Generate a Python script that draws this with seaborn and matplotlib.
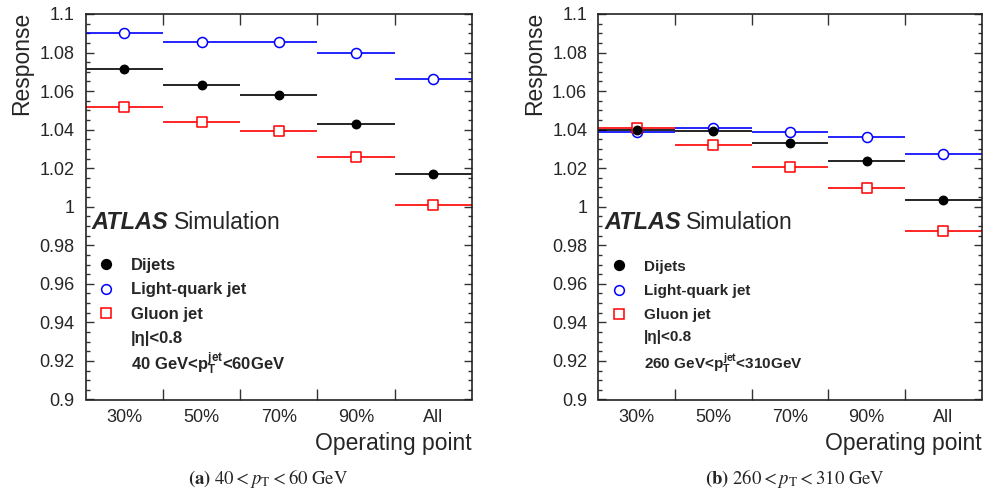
import matplotlib
matplotlib.use("Agg")
import matplotlib.pyplot as plt
import matplotlib.ticker as mticker
import seaborn as sns
import numpy as np

operating_points = ["30%", "50%", "70%", "90%", "All"]

# panel (a): 40 < pT < 60 GeV
dijets_a = [1.0716, 1.0633, 1.0581, 1.0429, 1.0171]
quark_a = [1.0901, 1.0856, 1.0855, 1.0799, 1.0663]
gluon_a = [1.0519, 1.0441, 1.0395, 1.0256, 1.0009]

# panel (b): 260 < pT < 310 GeV
dijets_b = [1.0398, 1.0393, 1.0331, 1.0237, 1.0033]
quark_b = [1.0389, 1.0410, 1.0386, 1.0360, 1.0272]
gluon_b = [1.0407, 1.0320, 1.0206, 1.0099, 0.9874]

sns.set_style("ticks")
plt.rcParams["font.family"] = ["Liberation Sans", "DejaVu Sans"]
plt.rcParams["mathtext.fontset"] = "custom"
plt.rcParams["mathtext.rm"] = "Liberation Sans:bold"
plt.rcParams["mathtext.it"] = "Liberation Sans:bold"
plt.rcParams["mathtext.bf"] = "Liberation Sans:bold"

BLUE = "#0000ff"
RED = "#ff0000"


def draw_panel(ax, dijets, quark, gluon, pt_text, leg):
    x = np.arange(len(operating_points))
    series = [
        ("Light-quark jet", quark, BLUE, "o", "white", 52),
        ("Gluon jet", gluon, RED, "s", "white", 46),
        ("Dijets", dijets, "black", "o", "black", 36),
    ]
    handles = {}
    for name, vals, col, mk, face, size in series:
        ax.hlines(vals, x - 0.5, x + 0.5, color=col, lw=1.2, zorder=2)
        sns.scatterplot(x=x, y=vals, marker=mk, s=size, color=face,
                        edgecolor=col, linewidth=1.1, ax=ax, zorder=3,
                        label=name, legend=False)
        handles[name] = plt.Line2D([], [], ls="none", marker=mk,
                                   ms=7 if mk == "o" else 6.5,
                                   mfc=face, mec=col, mew=1.1)

    ax.set_xlim(-0.5, len(operating_points) - 0.5)
    ax.set_ylim(0.9, 1.1)

    ax.set_xticks(x)
    ax.set_xticklabels(operating_points, fontsize=13)
    ax.set_xticks(x[:-1] + 0.5, minor=True)
    ax.tick_params(axis="x", which="major", length=0, pad=7)
    ax.tick_params(axis="x", which="minor", length=8, width=1.0, direction="in",
                   top=True, bottom=True, color="#333333")

    ax.yaxis.set_major_locator(mticker.MultipleLocator(0.02))
    ax.yaxis.set_minor_locator(mticker.MultipleLocator(0.005))
    ax.yaxis.set_major_formatter(mticker.FuncFormatter(lambda v, p: f"{v:g}"))
    ax.tick_params(axis="y", which="major", length=6, width=1.0, direction="in",
                   left=True, right=True, pad=8, color="#333333", labelsize=13)
    ax.tick_params(axis="y", which="minor", length=3, width=1.0, direction="in",
                   left=True, right=True, color="#333333")

    for sp in ax.spines.values():
        sp.set_linewidth(1.2)
        sp.set_color("#222222")

    ax.set_ylabel("Response", fontsize=16.5, loc="top")
    ax.yaxis.set_label_coords(-0.135, 1.006)
    ax.set_xlabel("Operating point", fontsize=16.5, loc="right")
    ax.xaxis.set_label_coords(1.0, -0.085)

    ax.text(0.016, 0.46, "ATLAS", transform=ax.transAxes, fontsize=17,
            fontweight="bold", fontstyle="italic", va="center")
    ax.text(0.229, 0.46, "Simulation", transform=ax.transAxes, fontsize=16.5,
            va="center")

    size, left, top, pad, spacing, eta_y, pt_y = leg
    order = ["Dijets", "Light-quark jet", "Gluon jet"]
    ax.legend([handles[n] for n in order], order, loc="upper left",
              bbox_to_anchor=(left, top), frameon=False, borderpad=0,
              borderaxespad=0, handlelength=1.0, handletextpad=pad,
              labelspacing=spacing, prop={"weight": "bold", "size": size})

    ax.text(0.118, eta_y, "|η|<0.8", transform=ax.transAxes, fontsize=size,
            fontweight="bold", va="center")
    ax.text(0.118, pt_y, pt_text, transform=ax.transAxes, fontsize=size,
            fontweight="bold", va="center")


fig = plt.figure(figsize=(9.87, 4.93), dpi=100)
ax1 = fig.add_axes([85.7 / 987, (493 - 399.5) / 493, 386 / 987, 385.5 / 493])
ax2 = fig.add_axes([598.3 / 987, (493 - 399.5) / 493, 383.4 / 987, 385.5 / 493])

draw_panel(ax1, dijets_a, quark_a, gluon_a,
           r"40 GeV<$p_\mathrm{T}^\mathrm{jet}$<60GeV",
           (12, 0.030, 0.367, 1.0, 0.56, 0.157, 0.092))
draw_panel(ax2, dijets_b, quark_b, gluon_b,
           r"260 GeV<$p_\mathrm{T}^\mathrm{jet}$<310GeV",
           (11, 0.034, 0.363, 1.14, 0.68, 0.162, 0.095))

fig.text(268 / 987, 1 - 478 / 493, r"$\mathbf{(a)}\ 40 < p_\mathrm{T} < 60\ \mathrm{GeV}$",
         ha="center", va="center", fontsize=13.5, math_fontfamily="stix")
fig.text(795 / 987, 1 - 478 / 493, r"$\mathbf{(b)}\ 260 < p_\mathrm{T} < 310\ \mathrm{GeV}$",
         ha="center", va="center", fontsize=13.5, math_fontfamily="stix")

fig.savefig("out.png", dpi=100)
